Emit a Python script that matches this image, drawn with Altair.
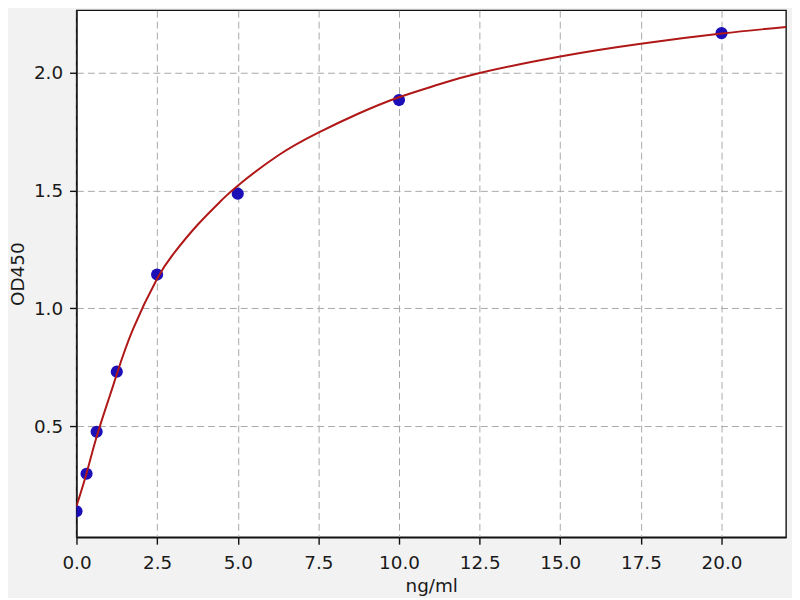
import altair as alt
import pandas as pd

# standard points
conc = [0, 0.3125, 0.625, 1.25, 2.5, 5, 10, 20]
od = [0.139, 0.298, 0.476, 0.731, 1.143, 1.486, 1.883, 2.167]

# fitted curve, values
curve_x = [0, 0.3125, 0.625, 1.0, 1.25, 1.75, 2.5, 3.0, 3.75, 4.5, 5, 6.25, 7.5, 8.75,
           10, 11.25, 12.5, 15, 17.5, 20, 22]
curve_y = [0.16, 0.30, 0.455, 0.615, 0.72, 0.91, 1.125, 1.23, 1.353, 1.458, 1.52, 1.648,
           1.745, 1.826, 1.895, 1.95, 1.998, 2.068, 2.122, 2.165, 2.193]

x_ticks = [0, 2.5, 5, 7.5, 10, 12.5, 15, 17.5, 20]
y_ticks = [0.5, 1.0, 1.5, 2.0]

pts = pd.DataFrame({"x": conc, "y": od})
crv = pd.DataFrame({"x": curve_x, "y": curve_y})

xs = alt.Scale(domain=[0, 22], nice=False, zero=False)
ys = alt.Scale(domain=[0.029, 2.264], nice=False, zero=False)

xax = alt.Axis(values=x_ticks, format=".1f", title="ng/ml", labelFlush=False,
               labelPadding=10, titlePadding=4)
yax = alt.Axis(values=y_ticks, format=".1f", title="OD450", labelFlush=False,
               labelPadding=7, titlePadding=6)

points = alt.Chart(pts).mark_circle(size=150, color="#1c0fb8", opacity=1, clip=True).encode(
    x=alt.X("x:Q", scale=xs, axis=xax),
    y=alt.Y("y:Q", scale=ys, axis=yax),
)

line = alt.Chart(crv).mark_line(color="#b01818", strokeWidth=2, interpolate="natural", clip=True).encode(
    x=alt.X("x:Q", scale=xs),
    y=alt.Y("y:Q", scale=ys),
)

chart = (
    alt.layer(points, line)
    .properties(
        width=715,
        height=531,
        autosize=alt.AutoSizeParams(type="none"),
        padding={"left": 69, "top": 0, "right": 6, "bottom": 59},
        background="#f2f2f2",
    )
    .configure_view(fill="white", stroke="#111111", strokeWidth=1.4)
    .configure_axis(
        labelFont="DejaVu Sans",
        titleFont="DejaVu Sans",
        labelFontSize=18.5,
        titleFontSize=18.5,
        titleFontWeight="normal",
        labelColor="#1a1a1a",
        titleColor="#1a1a1a",
        domainColor="#111111",
        domainWidth=1.4,
        tickColor="#111111",
        tickSize=7,
        tickWidth=1.4,
        grid=True,
        gridColor="#a8a8a8",
        gridDash=[7, 4],
        gridWidth=1,
    )
)

chart.save("out.html", embed_options={"renderer": "svg", "actions": False})
